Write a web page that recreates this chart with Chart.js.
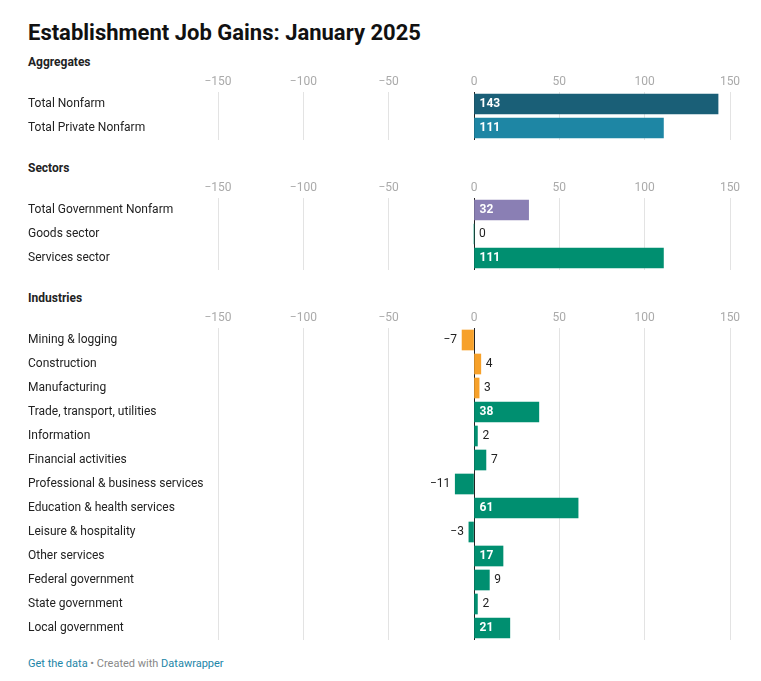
<!DOCTYPE html>
<html>
<head>
<meta charset="utf-8">
<script src="https://cdn.jsdelivr.net/npm/chart.js@4"></script>
<style>
  body { margin: 0; background: #fff; font-family: Roboto, sans-serif; color: #222; }
  #page { position: relative; width: 761px; height: 681px; }
  h1 { position: absolute; left: 28px; top: 20px; margin: 0; font-size: 22px; font-weight: 700; color: #111; }
  .head { position: absolute; left: 28px; font-size: 12px; font-weight: 700; color: #222; }
  .box { position: absolute; left: 28px; width: 722px; }
  #foot { position: absolute; left: 28px; top: 657px; font-size: 11px; color: #888; }
  #foot span { color: #1d86a8; }
</style>
</head>
<body>
<div id="page">
  <h1>Establishment Job Gains: January 2025</h1>
  <div class="head" style="top:55px">Aggregates</div>
  <div class="box" style="top:70px;height:70px"><canvas id="agg"></canvas></div>
  <div class="head" style="top:161px">Sectors</div>
  <div class="box" style="top:176px;height:94px"><canvas id="sec"></canvas></div>
  <div class="head" style="top:291px">Industries</div>
  <div class="box" style="top:306px;height:334px"><canvas id="ind"></canvas></div>
  <div id="foot"><span>Get the data</span> • Created with <span>Datawrapper</span></div>
</div>
<script>
let xTicks = [-150, -100, -50, 0, 50, 100, 150];

let aggLabels = ['Total Nonfarm', 'Total Private Nonfarm'];
let aggValues = [143, 111];

let secLabels = ['Total Government Nonfarm', 'Goods sector', 'Services sector'];
let secValues = [32, 0, 111];

let indLabels = ['Mining & logging', 'Construction', 'Manufacturing', 'Trade, transport, utilities',
  'Information', 'Financial activities', 'Professional & business services',
  'Education & health services', 'Leisure & hospitality', 'Other services',
  'Federal government', 'State government', 'Local government'];
let indValues = [-7, 4, 3, 38, 2, 7, -11, 61, -3, 17, 9, 2, 21];

const GREEN = '#008f70';
const ORANGE = '#f7a12a';

function fmt(v) {
  return v < 0 ? '\u2212' + Math.abs(v) : String(v);
}

const valueLabels = {
  id: 'valueLabels',
  afterDatasetsDraw(chart) {
    let ctx = chart.ctx;
    let meta = chart.getDatasetMeta(0);
    let data = chart.data.datasets[0].data;
    ctx.save();
    ctx.textBaseline = 'middle';
    meta.data.forEach((bar, i) => {
      let v = data[i];
      let len = Math.abs(bar.x - bar.base);
      if (len > 26) {
        ctx.font = 'bold 12px Roboto';
        ctx.fillStyle = '#fff';
        ctx.textAlign = 'left';
        ctx.fillText(fmt(v), bar.base + 5, bar.y);
      } else {
        ctx.font = '12px Roboto';
        ctx.fillStyle = '#222';
        if (v < 0) {
          ctx.textAlign = 'right';
          ctx.fillText(fmt(v), bar.x - 5, bar.y);
        } else {
          ctx.textAlign = 'left';
          ctx.fillText(fmt(v), bar.x + 5, bar.y);
        }
      }
    });
    ctx.restore();
  }
};

function renderPanel(id, labels, values, colors) {
  let chart_setup = {
    type: 'bar',
    data: {
      labels: labels,
      datasets: [{
        data: values,
        backgroundColor: colors,
        barThickness: 20,
        borderWidth: 0,
      }]
    },
    options: {
      indexAxis: 'y',
      animation: false,
      responsive: true,
      maintainAspectRatio: false,
      layout: { padding: { left: 0, right: 20, top: 0, bottom: 0 } },
      plugins: {
        legend: { display: false },
        tooltip: { enabled: false },
      },
      scales: {
        x: {
          position: 'top',
          min: -150,
          max: 150,
          afterBuildTicks: (s) => { s.ticks = xTicks.map(v => ({ value: v })); },
          afterFit: (s) => { s.height = 22; },
          ticks: {
            color: '#aaa',
            font: { family: 'Roboto', size: 12 },
            padding: 3,
            maxRotation: 0,
            callback: (v) => fmt(v),
          },
          grid: {
            drawTicks: false,
            color: (c) => c.tick && c.tick.value === 0 ? '#222' : '#e3e3e3',
          },
          border: { display: false },
        },
        y: {
          afterFit: (s) => { s.width = 190; s.paddingTop = 0; s.paddingBottom = 0; },
          ticks: {
            color: '#222',
            crossAlign: 'far',
            padding: 0,
            font: { family: 'Roboto', size: 12 },
          },
          grid: { display: false },
          border: { display: false },
        }
      }
    },
    plugins: [valueLabels]
  };
  new Chart(document.getElementById(id), chart_setup);
}

renderPanel('agg', aggLabels, aggValues, ['#1a5f77', '#1e86a4']);
renderPanel('sec', secLabels, secValues, ['#8a7fb4', GREEN, GREEN]);
renderPanel('ind', indLabels, indValues,
  indValues.map((v, i) => i < 3 ? ORANGE : GREEN));
</script>
</body>
</html>
